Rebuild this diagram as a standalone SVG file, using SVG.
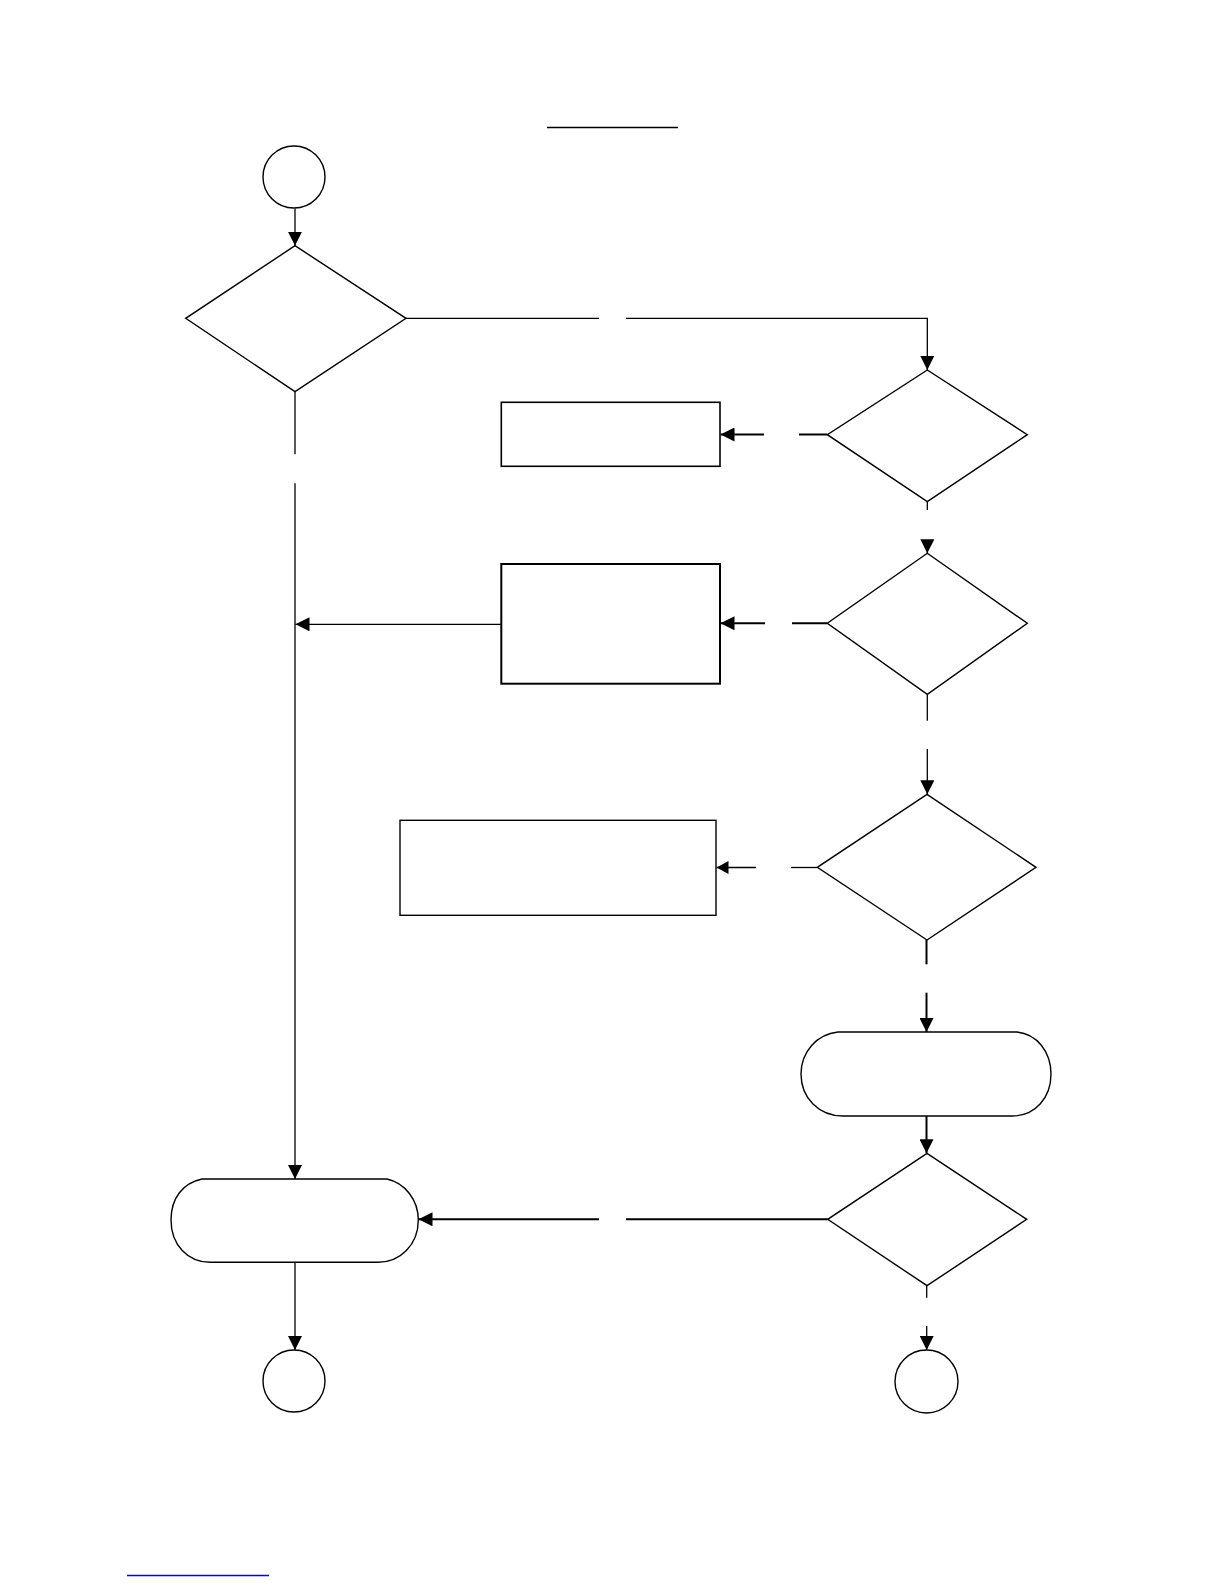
<svg xmlns="http://www.w3.org/2000/svg" width="1225" height="1585" viewBox="0 0 1225 1585">
<style>
.shape{fill:#fff;stroke:#000;stroke-width:1.4}
.box{fill:#fff;stroke:#000;stroke-width:1.6}
.c{fill:none;stroke:#000;stroke-width:1.3}
.t{fill:none;stroke:#000;stroke-width:2}
.a{marker-end:url(#ah)}
.s{marker-end:url(#ahs)}
</style>
<defs>
<marker id="ah" markerUnits="userSpaceOnUse" markerWidth="14" markerHeight="14" refX="14" refY="7" orient="auto">
<path d="M0,0 L14,7 L0,14 Z" fill="#000"/>
</marker>
<marker id="ahs" markerUnits="userSpaceOnUse" markerWidth="12" markerHeight="13" refX="12" refY="6.5" orient="auto">
<path d="M0,0 L12,6.5 L0,13 Z" fill="#000"/>
</marker>
</defs>
<rect width="1225" height="1585" fill="#fff"/>
<line x1="547" y1="127.5" x2="678" y2="127.5" stroke="#000" stroke-width="1.3"/>
<line x1="127" y1="1575.5" x2="269" y2="1575.5" stroke="#0000ee" stroke-width="1.3"/>
<g id="connectors">
<path class="c a" d="M295,208.5 V245.7"/>
<path class="c" d="M406,318.3 H599"/>
<path class="c a" d="M626,318.3 H927.3 V370"/>
<path class="c" d="M295,391.7 V454.3"/>
<path class="c a" d="M295,483.3 V1179"/>
<path class="t" d="M827.3,434.5 H799"/>
<path class="t a" d="M764,434.5 H720.5"/>
<path class="c" d="M927.3,501.7 V510"/>
<path class="c a" d="M927.3,540 V553.3"/>
<path class="t" d="M827.3,623.3 H792"/>
<path class="t a" d="M765,623.3 H720.5"/>
<path class="c a" d="M501.3,624.3 H295.5"/>
<path class="c" d="M927.3,694.3 V720.7"/>
<path class="c a" d="M927.3,749 V794.3"/>
<path class="c" d="M817.3,867.5 H791"/>
<path class="c s" d="M756,867.5 H716.5"/>
<path class="t" d="M926.5,940 V964.3"/>
<path class="t a" d="M926.5,992.7 V1032"/>
<path class="t a" d="M926.5,1116 V1153.3"/>
<path class="t" d="M827.7,1219.3 H626"/>
<path class="t a" d="M599,1219.3 H418.5"/>
<path class="c" d="M926.7,1285.7 V1297.7"/>
<path class="c a" d="M926.7,1326 V1350"/>
<path class="c a" d="M295,1262.3 V1350"/>
</g>
<g id="start"><circle class="shape" cx="294" cy="177" r="31"/></g>
<g id="decision1"><polygon class="shape" points="295,245.7 406,318.3 295,391.7 185.7,318.3"/></g>
<g id="decision2"><polygon class="shape" points="927.3,370 1027.3,434.7 927.3,501.7 827.3,434.7"/></g>
<g id="process1"><rect class="box" x="501.3" y="402.3" width="218.7" height="64"/></g>
<g id="decision3"><polygon class="shape" points="927.3,553.3 1027.3,623.3 927.3,694.3 827.3,623.3"/></g>
<g id="process2"><rect class="box" x="501.3" y="564" width="218.7" height="119.7" style="stroke-width:2"/></g>
<g id="decision4"><polygon class="shape" points="927,794.3 1036,867.3 927,940 817.3,867.3"/></g>
<g id="process3"><rect class="shape" x="400" y="820.3" width="316" height="95"/></g>
<g id="terminal1"><path class="shape" d="M838,1032 L1017,1032 C1037,1034 1051,1052 1051,1074 C1051,1098 1035,1116 1012,1116 L843,1116 C819,1116 801,1098 801,1074 C801,1052 817,1034 838,1032 Z"/></g>
<g id="decision5"><polygon class="shape" points="927,1153.3 1026.7,1219.3 927,1285.7 827.7,1219.3"/></g>
<g id="terminal2"><path class="shape" d="M202,1179 L387,1179 C405,1183 418.3,1200 418.3,1220 C418.3,1245 400,1262.3 378,1262.3 L210,1262.3 C188,1262.3 171,1245 171,1220 C171,1198 183,1183 202,1179 Z"/></g>
<g id="end1"><circle class="shape" cx="294" cy="1381" r="31"/></g>
<g id="end2"><circle class="shape" cx="926.5" cy="1381.5" r="31.5"/></g>
</svg>
